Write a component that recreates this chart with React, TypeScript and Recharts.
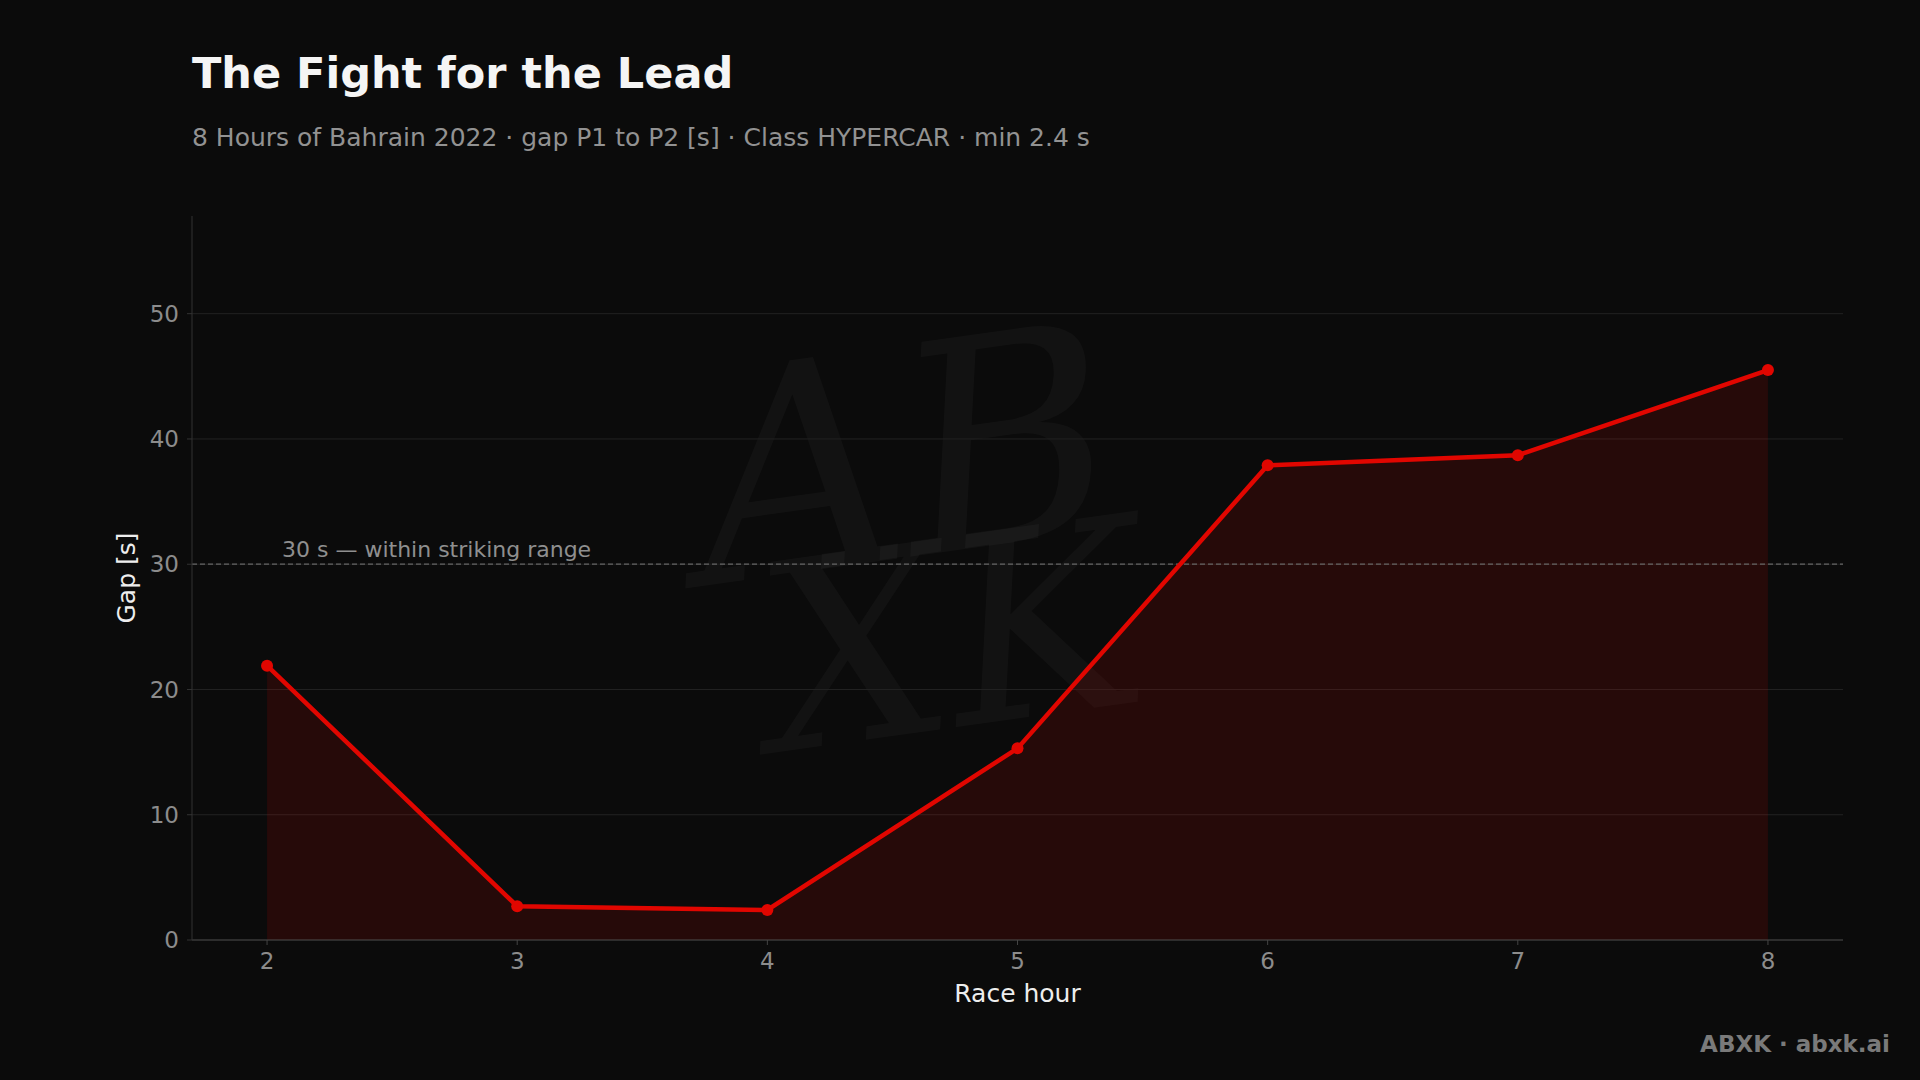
import React from 'react';
import { ComposedChart, Area, Line, XAxis, YAxis, CartesianGrid, ReferenceLine } from 'recharts';

// race hour vs gap P1 -> P2 in seconds
const hours = [2, 3, 4, 5, 6, 7, 8];
const gaps = [21.9, 2.7, 2.4, 15.3, 37.9, 38.7, 45.5];
const yTicks = [0, 10, 20, 30, 40, 50];
const strikingRange = 30;

const RED = '#e10600';
const FONT = '"DejaVu Sans", Verdana, sans-serif';

const data = hours.map((h, i) => ({ hour: h, gap: gaps[i] }));

const RangeLabel = (props: any) => {
  const { viewBox } = props;
  return (
    <text x={viewBox.x + 90} y={viewBox.y - 7} fill="#8f8f8f" fontSize={22} fontFamily={FONT}>
      30 s — within striking range
    </text>
  );
};

export default function App() {
  return (
    <div style={{ position: 'relative', width: 1920, height: 1080, background: '#0b0b0b', overflow: 'hidden' }}>
      <style>{`body{margin:0;background:#0b0b0b}`}</style>

      {/* backdrop: titles, watermark, footer */}
      <svg width={1920} height={1080} style={{ position: 'absolute', left: 0, top: 0 }}>
        <g fill="#ffffff" fillOpacity={0.03} fontFamily='"DejaVu Serif", serif' fontStyle="italic">
          <text x={690} y={560} fontSize={290} transform="rotate(-8 880 450)">AB</text>
          <text x={760} y={720} fontSize={260} transform="rotate(-8 1000 620)">XK</text>
        </g>
        <text x={192} y={88} fill="#f5f5f5" fontSize={43} fontWeight="bold" fontFamily={FONT}>
          The Fight for the Lead
        </text>
        <text x={192} y={146} fill="#929292" fontSize={25} fontFamily={FONT}>
          8 Hours of Bahrain 2022 · gap P1 to P2 [s] · Class HYPERCAR · min 2.4 s
        </text>
        <text x={1890} y={1052} fill="#7a7a7a" fontSize={23} fontWeight="bold" textAnchor="end" fontFamily={FONT}>
          ABXK · abxk.ai
        </text>
      </svg>

      <div style={{ position: 'absolute', left: 0, top: 0 }}>
        <ComposedChart
          width={1920}
          height={1080}
          data={data}
          margin={{ top: 216, right: 77, bottom: 100, left: 132 }}
        >
          <CartesianGrid vertical={false} horizontalValues={yTicks} stroke="#222222" strokeWidth={1} />
          <XAxis
            dataKey="hour"
            type="number"
            domain={[1.7, 8.3]}
            ticks={hours}
            height={40}
            stroke="#444444"
            tickSize={5}
            tickMargin={8}
            tick={{ fill: '#8c8c8c', fontSize: 23, fontFamily: FONT }}
            label={{ value: 'Race hour', position: 'insideBottom', offset: -22, fill: '#eeeeee', fontSize: 25, fontFamily: FONT }}
          />
          <YAxis
            type="number"
            domain={[0, 57.8]}
            ticks={yTicks}
            width={60}
            stroke="#333333"
            tickSize={5}
            tickMargin={8}
            tick={{ fill: '#8c8c8c', fontSize: 23, fontFamily: FONT }}
          />
          <Area
            dataKey="gap"
            type="linear"
            fill={RED}
            fillOpacity={0.13}
            stroke="none"
            dot={false}
            activeDot={false}
            isAnimationActive={false}
          />
          <ReferenceLine
            y={strikingRange}
            stroke="#666666"
            strokeWidth={1.3}
            strokeDasharray="5 3"
            label={<RangeLabel />}
          />
          <Line
            dataKey="gap"
            type="linear"
            stroke={RED}
            strokeWidth={4.5}
            dot={{ r: 6, fill: RED, stroke: 'none' }}
            activeDot={false}
            isAnimationActive={false}
          />
        </ComposedChart>
      </div>

      <svg width={1920} height={1080} style={{ position: 'absolute', left: 0, top: 0, pointerEvents: 'none' }}>
        <text
          x={135}
          y={578}
          fill="#eeeeee"
          fontSize={25}
          fontFamily={FONT}
          textAnchor="middle"
          transform="rotate(-90 135 578)"
        >
          Gap [s]
        </text>
      </svg>
    </div>
  );
}
